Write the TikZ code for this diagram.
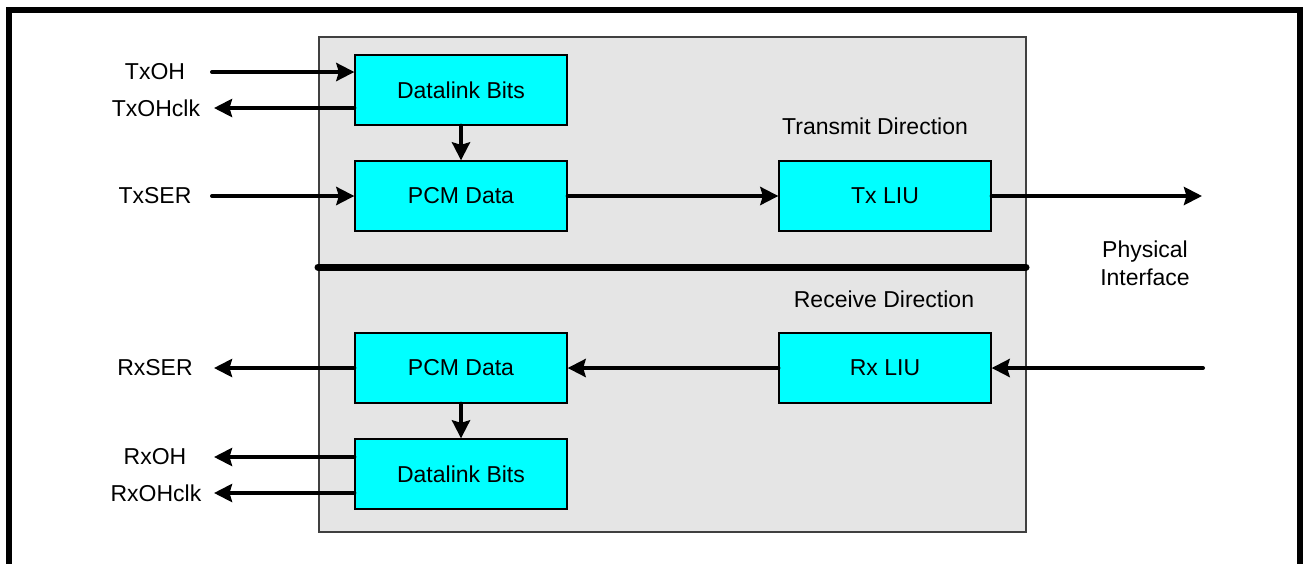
\documentclass[tikz,border=0pt]{standalone}
\usepackage{fontspec}
\setmainfont{Liberation Sans}
\usetikzlibrary{arrows.meta}
\definecolor{panelgray}{RGB}{229,229,229}
\definecolor{boxcyan}{RGB}{0,255,255}
\tikzset{
  blk/.style={draw=black, line width=1.3pt, fill=boxcyan, minimum width=212pt, minimum height=70pt, inner sep=0pt, font=\fontsize{23}{27.6}\selectfont},
  lbl/.style={inner sep=0pt, font=\fontsize{23}{27.6}\selectfont},
  arr/.style={line width=4pt, line cap=round, -{Stealth[length=18pt,width=18pt,inset=2.5pt]}},
}
\begin{document}
\begin{tikzpicture}[x=1pt,y=-1pt]
\useasboundingbox (0,0) rectangle (1304,563);
\clip (0,0) rectangle (1304,563);
% outer frame (open at bottom)
\draw[line width=6pt] (9,600) -- (9,10) -- (1300,10) -- (1300,600);
% panel
\draw[fill=panelgray, draw=black!75, line width=1.3pt] (319,37) rectangle (1026,532);
\draw[line width=7pt, line cap=round] (318,267) -- (1026,267);
% blocks
\node[blk] (dl1)   at (461,90)  {Datalink Bits};
\node[blk] (pcm1)  at (461,196) {PCM Data};
\node[blk] (txliu) at (885,196) {Tx LIU};
\node[blk] (rxliu) at (885,368) {Rx LIU};
\node[blk] (pcm2)  at (461,368) {PCM Data};
\node[blk] (dl2)   at (461,474) {Datalink Bits};
% labels
\node[lbl] (ltxoh)    at (155,72)  {TxOH};
\node[lbl] (ltxohclk) at (156,108) {TxOHclk};
\node[lbl] (ltxser)   at (155,196) {TxSER};
\node[lbl] (lrxser)   at (155,368) {RxSER};
\node[lbl] (lrxoh)    at (155,457) {RxOH};
\node[lbl] (lrxohclk) at (156,493) {RxOHclk};
\node[lbl] (ltd) at (875,126) {Transmit Direction};
\node[lbl] (lrd) at (884,299) {Receive Direction};
\node[lbl, align=center] (lpi) at (1145,263) {Physical\\Interface};
% arrow end points
\coordinate (c1) at (212,72);
\coordinate (c2) at (214,108);
\coordinate (c3) at (212,196);
\coordinate (c4) at (1202,196);
\coordinate (c5) at (1203,368);
\coordinate (c6) at (214,368);
\coordinate (c7) at (214,457);
\coordinate (c8) at (214,493);
% connectors
\draw[arr] (c1) -- (c1 -| dl1.west);
\draw[arr] (c2 -| dl1.west) -- (c2);
\draw[arr] (c3) -- (pcm1.west);
\draw[arr] (dl1.south) -- (pcm1.north);
\draw[arr] (pcm1.east) -- (txliu.west);
\draw[arr] (txliu.east) -- (c4);
\draw[arr] (c5) -- (rxliu.east);
\draw[arr] (rxliu.west) -- (pcm2.east);
\draw[arr] (pcm2.west) -- (c6);
\draw[arr] (pcm2.south) -- (dl2.north);
\draw[arr] (c7 -| dl2.west) -- (c7);
\draw[arr] (c8 -| dl2.west) -- (c8);
\end{tikzpicture}
\end{document}
